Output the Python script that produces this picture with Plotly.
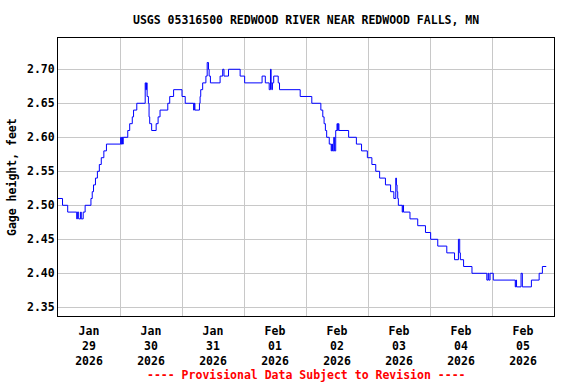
import plotly.graph_objects as go

# Step breakpoints (value holds until next time)
times = [
    "2026-01-29 00:00", "2026-01-29 01:45", "2026-01-29 03:45", "2026-01-29 07:15",
    "2026-01-29 07:30", "2026-01-29 08:00", "2026-01-29 08:45", "2026-01-29 09:00",
    "2026-01-29 09:45", "2026-01-29 10:30", "2026-01-29 12:45", "2026-01-29 13:15",
    "2026-01-29 13:45", "2026-01-29 14:30", "2026-01-29 15:15", "2026-01-29 16:00",
    "2026-01-29 16:45", "2026-01-29 17:45", "2026-01-29 18:45",
    "2026-01-30 00:15", "2026-01-30 00:30", "2026-01-30 00:45", "2026-01-30 01:00",
    "2026-01-30 01:15", "2026-01-30 03:00", "2026-01-30 03:45", "2026-01-30 04:45",
    "2026-01-30 05:15", "2026-01-30 06:30", "2026-01-30 09:45", "2026-01-30 10:00",
    "2026-01-30 10:15", "2026-01-30 10:30", "2026-01-30 11:00", "2026-01-30 11:15",
    "2026-01-30 11:30", "2026-01-30 12:15", "2026-01-30 14:00", "2026-01-30 14:45",
    "2026-01-30 15:30", "2026-01-30 18:30", "2026-01-30 19:15", "2026-01-30 20:45",
    "2026-01-31 00:00", "2026-01-31 01:15", "2026-01-31 04:30", "2026-01-31 04:45",
    "2026-01-31 05:00", "2026-01-31 06:45", "2026-01-31 07:00", "2026-01-31 07:15",
    "2026-01-31 08:00", "2026-01-31 09:15", "2026-01-31 09:45", "2026-01-31 10:15",
    "2026-01-31 10:30", "2026-01-31 11:00", "2026-01-31 14:45", "2026-01-31 15:45",
    "2026-01-31 16:15", "2026-01-31 18:00", "2026-01-31 22:30",
    "2026-02-01 00:15", "2026-02-01 07:00", "2026-02-01 08:15", "2026-02-01 09:45",
    "2026-02-01 10:15", "2026-02-01 10:30", "2026-02-01 10:45", "2026-02-01 11:00",
    "2026-02-01 11:30", "2026-02-01 13:15", "2026-02-01 13:45", "2026-02-01 21:45",
    "2026-02-02 02:15", "2026-02-02 05:45", "2026-02-02 06:30", "2026-02-02 07:00",
    "2026-02-02 07:30", "2026-02-02 08:00", "2026-02-02 09:00", "2026-02-02 09:45",
    "2026-02-02 10:00", "2026-02-02 10:15", "2026-02-02 10:45", "2026-02-02 11:00",
    "2026-02-02 11:30", "2026-02-02 12:00", "2026-02-02 12:15", "2026-02-02 12:30",
    "2026-02-02 12:45", "2026-02-02 16:30", "2026-02-02 19:30", "2026-02-02 21:30",
    "2026-02-02 23:45",
    "2026-02-03 01:30", "2026-02-03 03:00", "2026-02-03 04:30", "2026-02-03 06:45",
    "2026-02-03 08:45", "2026-02-03 10:00", "2026-02-03 10:45", "2026-02-03 11:00",
    "2026-02-03 11:15", "2026-02-03 11:30", "2026-02-03 11:45", "2026-02-03 13:15",
    "2026-02-03 13:30", "2026-02-03 13:45", "2026-02-03 16:15", "2026-02-03 19:15",
    "2026-02-03 22:15",
    "2026-02-04 00:15", "2026-02-04 03:00", "2026-02-04 06:30", "2026-02-04 09:30",
    "2026-02-04 11:00", "2026-02-04 11:30", "2026-02-04 11:45", "2026-02-04 13:00",
    "2026-02-04 16:15", "2026-02-04 22:00", "2026-02-04 22:30", "2026-02-04 22:45",
    "2026-02-04 23:15",
    "2026-02-05 00:30", "2026-02-05 09:00", "2026-02-05 09:15", "2026-02-05 09:30",
    "2026-02-05 11:15", "2026-02-05 11:45", "2026-02-05 15:15", "2026-02-05 18:15",
    "2026-02-05 19:30", "2026-02-05 21:00",
]

gage_height = [
    2.51, 2.50, 2.49, 2.48, 2.49, 2.48, 2.49, 2.48, 2.49, 2.50, 2.51, 2.52,
    2.53, 2.54, 2.55, 2.56, 2.57, 2.58, 2.59,
    2.60, 2.59, 2.60, 2.59, 2.60, 2.61, 2.62, 2.63, 2.64, 2.65, 2.68, 2.67,
    2.68, 2.66, 2.65, 2.63, 2.62, 2.61, 2.62, 2.63, 2.64, 2.65, 2.66, 2.67,
    2.66, 2.65, 2.64, 2.65, 2.64, 2.65, 2.66, 2.67, 2.68, 2.69, 2.71, 2.70,
    2.69, 2.68, 2.69, 2.70, 2.69, 2.70, 2.69,
    2.68, 2.69, 2.68, 2.67, 2.70, 2.68, 2.67, 2.68, 2.69, 2.68, 2.67, 2.66,
    2.65, 2.64, 2.63, 2.62, 2.61, 2.60, 2.59, 2.58, 2.59, 2.58, 2.60, 2.58,
    2.61, 2.62, 2.61, 2.62, 2.61, 2.60, 2.59, 2.58, 2.57,
    2.56, 2.55, 2.54, 2.53, 2.52, 2.51, 2.54, 2.53, 2.52, 2.51, 2.50, 2.49,
    2.50, 2.49, 2.48, 2.47, 2.46,
    2.45, 2.44, 2.43, 2.42, 2.45, 2.43, 2.42, 2.41, 2.40, 2.39, 2.40, 2.39,
    2.40,
    2.39, 2.38, 2.39, 2.38, 2.40, 2.38, 2.39, 2.40, 2.41, 2.41,
]

y_ticks = [2.35, 2.40, 2.45, 2.50, 2.55, 2.60, 2.65, 2.70]
x_range = ["2026-01-29 00:00", "2026-02-06 00:00"]
y_range = [2.3372, 2.746]

title_text = "USGS 05316500 REDWOOD RIVER NEAR REDWOOD FALLS, MN"
y_title = "Gage height, feet"
footer_text = "---- Provisional Data Subject to Revision ----"

FONT = "DejaVu Sans Mono"

fig = go.Figure()
fig.add_trace(go.Scatter(
    x=times, y=gage_height, mode="lines", line_shape="hv",
    line=dict(color="#0000ff", width=1), hoverinfo="skip",
))

fig.update_layout(
    width=576, height=384,
    margin=dict(l=58, r=22, t=38, b=68, autoexpand=False),
    paper_bgcolor="white", plot_bgcolor="white",
    showlegend=False,
    font=dict(family=FONT, size=11, color="black"),
)

fig.update_xaxes(
    range=x_range, type="date", automargin=False,
    dtick=86400000, tick0="2026-01-29",
    ticklabelmode="period", tickformat="%b<br>%d<br>%Y",
    ticklabelstandoff=4,
    showgrid=True, gridcolor="#c8c8c8", gridwidth=1,
    showline=True, linecolor="black", linewidth=1, mirror=True,
    ticks="", zeroline=False,
    tickfont=dict(family=FONT, size=11.5, color="black", weight="bold"),
)
fig.update_yaxes(
    range=y_range, tickvals=y_ticks, tickformat=".2f", automargin=False,
    showgrid=True, gridcolor="#c8c8c8", gridwidth=1,
    showline=True, linecolor="black", linewidth=1, mirror=True,
    ticks="", zeroline=False,
    tickfont=dict(family=FONT, size=11.5, color="black", weight="bold"),
)

fig.add_annotation(
    text="<b>" + title_text + "</b>", xref="paper", yref="paper",
    x=0.5, y=1 + 18 / 278, xanchor="center", yanchor="middle", showarrow=False,
    font=dict(family=FONT, size=11.5, color="black"),
)
fig.add_annotation(
    text="<b>" + y_title + "</b>", xref="paper", yref="paper",
    x=-(58 - 12) / 496, y=0.5, xanchor="center", yanchor="middle",
    textangle=-90, showarrow=False,
    font=dict(family=FONT, size=11.5, color="black"),
)
fig.add_annotation(
    text="<b>" + footer_text + "</b>", xref="paper", yref="paper",
    x=0.5, y=-59 / 278, xanchor="center", yanchor="middle", showarrow=False,
    font=dict(family=FONT, size=11.5, color="#ff0000"),
)

fig.write_html(
    "out.html",
    config={"displayModeBar": False},
    post_script="document.body.style.margin='0px';document.body.style.overflow='hidden';",
)
